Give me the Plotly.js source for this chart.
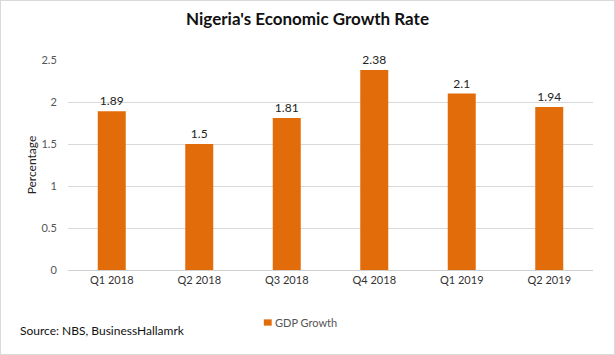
<!DOCTYPE html>
<html><head><meta charset="utf-8">
<script src="https://cdn.plot.ly/plotly-3.0.1.min.js"></script>
<style>html,body{margin:0;padding:0;background:#fff}#c{width:613px;height:353px;border:1px solid #d9d9d9}</style>
</head><body><div id="c"></div>
<script>
const categories = ["Q1 2018","Q2 2018","Q3 2018","Q4 2018","Q1 2019","Q2 2019"];
const gdpGrowth = [1.89, 1.5, 1.81, 2.38, 2.1, 1.94];
const yTicks = [0, 0.5, 1, 1.5, 2, 2.5];
const yTickLabels = ["0","0.5","1","1.5","2","2.5"];
const seriesName = "GDP Growth";
const barColor = "#E36C0A";
const F = "Lato, 'Open Sans', sans-serif";
Plotly.newPlot("c", [{
  type: "bar", x: categories, y: gdpGrowth, name: seriesName,
  marker: {color: barColor}, width: 0.32,
  text: gdpGrowth.map(String), textposition: "outside", cliponaxis: false,
  textfont: {family: F, size: 12, color: "#222"}
}], {
  width: 613, height: 353,
  margin: {l: 67, r: 21, t: 59, b: 84},
  paper_bgcolor: "#fff", plot_bgcolor: "#fff",
  title: {text: "<b>Nigeria's Economic Growth Rate</b>", font: {family: F, size: 17, color: "#111"}, x: 0.5, xanchor: "center", y: 0.95, yanchor: "middle"},
  bargap: 0.68,
  xaxis: {tickfont: {family: F, size: 11, color: "#333"}, showline: true, linecolor: "#d0d0d0", ticks: "", fixedrange: true},
  yaxis: {range: [0, 2.5], tickvals: yTicks, ticktext: yTickLabels, tickfont: {family: F, size: 11, color: "#555"},
    gridcolor: "#d9d9d9", zeroline: false, showline: false, ticklen: 8, ticks: "outside", tickcolor: "rgba(0,0,0,0)",
    title: {text: "Percentage", font: {family: F, size: 12, color: "#222"}, standoff: 2}},
  showlegend: false,
  shapes: [{type: "rect", xref: "paper", yref: "paper", x0: 0.373, x1: 0.388, y0: -0.265, y1: -0.235, fillcolor: barColor, line: {width: 0}}],
  annotations: [
    {text: "Source: NBS, BusinessHallamrk", xref: "paper", yref: "paper", x: -0.095, y: -0.29, xanchor: "left", yanchor: "middle", showarrow: false, font: {family: F, size: 12, color: "#111"}},
    {text: seriesName, xref: "paper", yref: "paper", x: 0.391, y: -0.25, xanchor: "left", yanchor: "middle", showarrow: false, font: {family: F, size: 11, color: "#555"}}
  ]
}, {staticPlot: true});
</script></body></html>
